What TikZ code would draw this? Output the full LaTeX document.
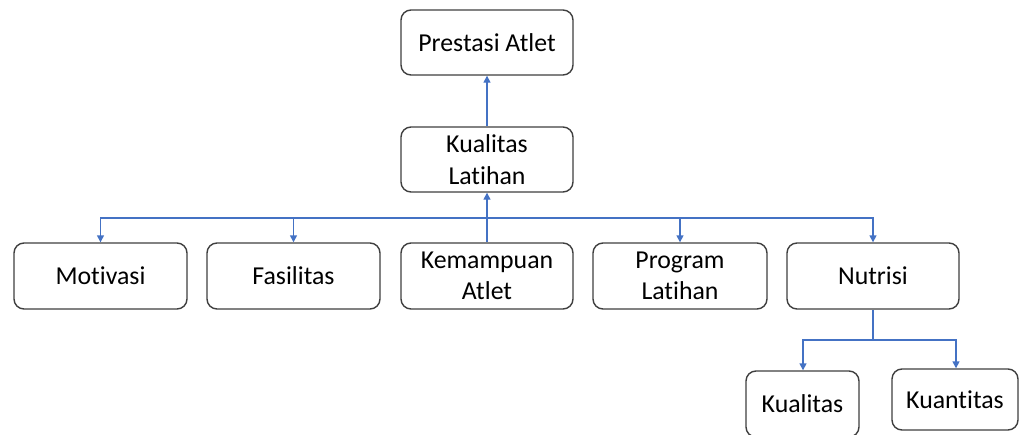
\documentclass[tikz,border=0pt]{standalone}
\usepackage{fontspec}
\setmainfont[Ligatures={NoCommon},RawFeature={-liga}]{Carlito}
\usetikzlibrary{arrows.meta}
\definecolor{lineblue}{HTML}{4472C4}
\definecolor{boxgray}{HTML}{3F3F3F}
\tikzset{
  box/.style={draw=boxgray, line width=1.4pt, rounded corners=10pt, fill=white,
    align=center, inner sep=0pt, font=\fontsize{25.8}{31.5}\selectfont},
  conn/.style={draw=lineblue, line width=1.4pt,
    -{Triangle[length=7pt,width=7pt]}},
  plain/.style={draw=lineblue, line width=1.4pt},
}
\begin{document}
\begin{tikzpicture}[x=1pt,y=-1pt]
\useasboundingbox (0,0) rectangle (1023,434);
\node[box, minimum width=172pt, minimum height=65pt] (prest) at (487,42.5) {Prestasi Atlet};
\node[box, minimum width=172pt, minimum height=65pt] (kl) at (487,159.5) {Kualitas\\Latihan};
\node[box, minimum width=173pt, minimum height=66pt] (mot) at (100.5,276) {Motivasi};
\node[box, minimum width=173pt, minimum height=66pt] (fas) at (293.5,276) {Fasilitas};
\node[box, minimum width=172pt, minimum height=66pt] (kem) at (487,276) {Kemampuan\\Atlet};
\node[box, minimum width=174pt, minimum height=66pt] (prog) at (680,276) {Program\\Latihan};
\node[box, minimum width=172pt, minimum height=66pt] (nut) at (873,276) {Nutrisi};
\node[box, minimum width=113pt, minimum height=66pt] (kual) at (802.5,404) {Kualitas};
\node[box, minimum width=126pt, minimum height=61pt] (kuan) at (955,399.5) {Kuantitas};
\coordinate (bus) at (487,218);
\coordinate (nbus) at (873,340);
\draw[conn] (kl.north) -- (prest.south);
\draw[conn] (kem.north) -- (kl.south);
\draw[conn] (bus) -| (mot.north);
\draw[conn] (bus) -| (fas.north);
\draw[conn] (bus) -| (prog.north);
\draw[conn] (bus) -| (nut.north);
\draw[plain] (nut.south) -- (nbus);
\draw[conn] (nbus) -| ([xshift=0.5pt]kual.north);
\draw[conn] (nbus) -| ([xshift=1pt]kuan.north);
\end{tikzpicture}
\end{document}
